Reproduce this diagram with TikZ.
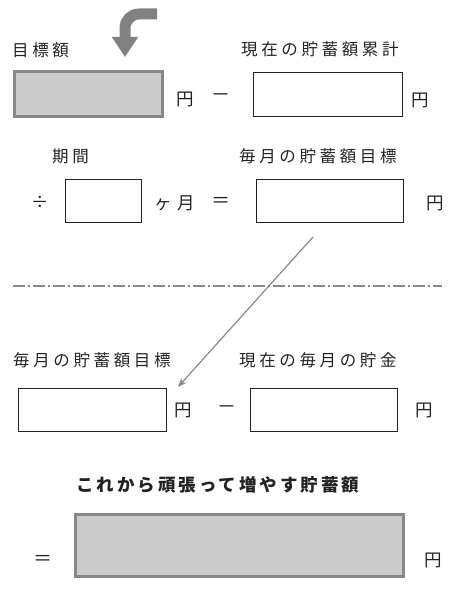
\documentclass[tikz,border=0pt]{standalone}
\usepackage{fontspec}
\setmainfont{Noto Sans CJK JP}
\usetikzlibrary{arrows.meta}
\definecolor{inkc}{HTML}{222222}
\definecolor{greyfill}{HTML}{CCCCCC}
\definecolor{greyline}{HTML}{888888}
\newcommand{\lbl}{\fontsize{16.5}{18}\selectfont\addfontfeature{LetterSpace=22}}
\newcommand{\unitf}{\fontsize{17.5}{19}\selectfont}
\newcommand{\opf}{\fontsize{19}{21}\selectfont}
\begin{document}
\begin{tikzpicture}[x=1pt,y=1pt,
  inbox/.style={draw=inkc,line width=1.3pt,fill=white},
  ansbox/.style={draw=greyline,line width=3pt,fill=greyfill},
  label/.style={anchor=west,text=inkc,font=\lbl},
  unit/.style={text=inkc,font=\unitf},
  oper/.style={text=inkc,font=\opf}]
\tikzstyle{every node}+=[inner sep=0pt]
\useasboundingbox (0,0) rectangle (457,-596);

% row 1
\node[label] (goallbl) at (12,-50) {目標額};
\node[ansbox,minimum width=148pt,minimum height=45pt] (goal) at (88.5,-94) {};
\node[unit] (yen1) at (185,-99) {円};
\node[oper] (minus1) at (221,-98) {－};
\node[label] (savedlbl) at (241,-49) {現在の貯蓄額累計};
\node[inbox,minimum width=149pt,minimum height=44pt] (saved) at (328,-94.5) {};
\node[unit] (yen2) at (420,-100) {円};

% row 2
\node[label] (monthslbl) at (52,-156) {期間};
\node[unit] (divide) at (40,-202) {÷};
\node[inbox,minimum width=76pt,minimum height=43pt] (months) at (103.5,-201) {};
\node[unit,font=\unitf\addfontfeature{LetterSpace=30}] (kagetsu) at (175,-203) {ヶ月};
\node[oper] (equal1) at (221,-202) {＝};
\node[label] (monthlylbl) at (239,-156) {毎月の貯蓄額目標};
\node[inbox,minimum width=147pt,minimum height=43pt] (monthly) at (330,-201) {};
\node[unit] (yen3) at (435,-203) {円};

% separator
\draw[greyline,line width=2.2pt,dash pattern=on 12pt off 3pt on 2pt off 3pt]
  (13,-286) -- (442,-286);

% row 3
\node[label] (monthly2lbl) at (13,-360) {毎月の貯蓄額目標};
\node[inbox,minimum width=148pt,minimum height=43pt] (monthly2) at (92.5,-410) {};
\node[unit] (yen4) at (183,-410) {円};
\node[oper] (minus2) at (227,-410) {－};
\node[label] (currentlbl) at (239,-360) {現在の毎月の貯金};
\node[inbox,minimum width=147pt,minimum height=43pt] (current) at (324,-410) {};
\node[unit] (yen5) at (424,-410) {円};

% row 4
\node[anchor=west,text=inkc,font=\fontsize{17.5}{19}\selectfont\bfseries\addfontfeature{LetterSpace=17}] (resultlbl) at (76,-485) {これから頑張って増やす貯蓄額};
\node[oper] (equal2) at (43,-560) {＝};
\node[ansbox,minimum width=328pt,minimum height=62pt] (result) at (239.5,-545.5) {};
\node[unit] (yen6) at (433,-560) {円};

% arrows
\coordinate (bendstart) at (157,-14);
\coordinate (bendtip) at (125,-57);
\draw[greyline!95!black,line width=11pt,rounded corners=14pt,
  -{Triangle[width=25pt,length=20pt]}] (bendstart) -| (bendtip);
\coordinate (carryfrom) at (313,-237);
\coordinate (carryto) at (178,-387);
\draw[greyline,line width=1.2pt,-{Stealth[length=9pt,width=7pt]}] (carryfrom) -- (carryto);
\end{tikzpicture}
\end{document}
